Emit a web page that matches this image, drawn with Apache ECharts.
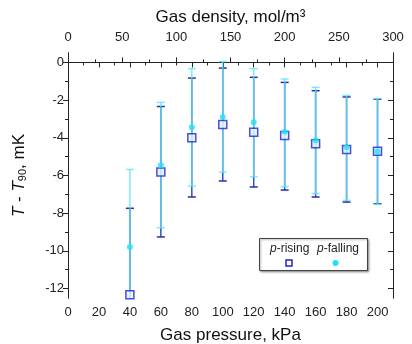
<!DOCTYPE html>
<html>
<head>
<meta charset="utf-8">
<script src="https://cdn.jsdelivr.net/npm/echarts@6/dist/echarts.min.js"></script>
<style>
  html, body { margin: 0; padding: 0; background: #fff; }
  #chart { width: 412px; height: 344px; }
</style>
</head>
<body>
<div id="chart"></div>
<script>
// gas pressure, kPa
var pressure = [40, 60, 80, 100, 120, 140, 160, 180, 200]
// p-rising: T - T90 and error bar ends, mK
var risingT  = [-12.33, -5.82, -4.00, -3.30, -3.70, -3.88, -4.32, -4.62, -4.71]
var risingHi = [-7.74, -2.34, -0.83, -0.30, -0.79, -1.06, -1.50, -1.83, -1.95]
var risingLo = [-16.9, -9.26, -7.14, -6.29, -6.61, -6.77, -7.14, -7.41, -7.50]
// p-falling
var fallingT  = [-9.79, -5.45, -3.44, -2.89, -3.17, -3.68, -4.13, -4.50, -4.72]
var fallingHi = [-5.68, -2.12, -0.33, 0.05, -0.33, -0.88, -1.32, -1.75, -1.92]
var fallingLo = [-13.9, -8.77, -6.56, -5.82, -6.06, -6.59, -6.96, -7.32, -7.53]

var yMajor = [-12, -10, -8, -6, -4, -2, 0]
var yMinor = [-11, -9, -7, -5, -3, -1]

var font = 'Liberation Sans, Arial, sans-serif'
var axisColor = '#222'

function errorBars(color, lineColor, opacity) {
    return function (params, api) {
        var x = api.value(0)
        var hi = api.coord([x, api.value(1)])
        var lo = api.coord([x, api.value(2)])
        var w = 4
        var st = { stroke: color, lineWidth: 1.5, opacity: opacity }
        return {
            type: 'group',
            children: [
                { type: 'line', shape: { x1: hi[0], y1: hi[1], x2: lo[0], y2: lo[1] }, style: { stroke: lineColor, lineWidth: 1.5, opacity: opacity } },
                { type: 'line', shape: { x1: hi[0] - w, y1: hi[1], x2: hi[0] + w, y2: hi[1] }, style: st },
                { type: 'line', shape: { x1: lo[0] - w, y1: lo[1], x2: lo[0] + w, y2: lo[1] }, style: st }
            ]
        }
    }
}

function yAxisDef(pos, values, len, inside, labels) {
    return {
        type: 'value', position: pos, min: -12.5, max: 0.5,
        splitLine: { show: false },
        axisLine: { show: true, lineStyle: { color: axisColor, width: 1 } },
        axisTick: { show: true, inside: inside, length: len, customValues: values, lineStyle: { color: axisColor } },
        axisLabel: labels ? { show: true, customValues: values, color: '#222', fontSize: 13, fontFamily: font, margin: 4 } : { show: false }
    }
}

var option = {
    animation: false,
    backgroundColor: '#fff',
    grid: { left: 68, right: 19, top: 53, bottom: 46, outerBoundsMode: 'none', containLabel: false },
    xAxis: [{
        type: 'value', position: 'bottom', min: 0, max: 210, interval: 20,
        name: 'Gas pressure, kPa', nameLocation: 'middle', nameGap: 29,
        nameTextStyle: { fontSize: 17, color: '#111', fontFamily: font },
        splitLine: { show: false },
        axisLine: { lineStyle: { color: axisColor, width: 1 } },
        axisTick: { length: 5, lineStyle: { color: axisColor } },
        minorTick: { show: true, splitNumber: 2, length: 3, lineStyle: { color: axisColor } },
        axisLabel: { color: '#222', fontSize: 13, fontFamily: font, margin: 8, showMaxLabel: false }
    }, {
        type: 'value', position: 'top', min: 0, max: 300, interval: 50,
        name: 'Gas density, mol/m³', nameLocation: 'middle', nameGap: 26,
        nameTextStyle: { fontSize: 17, color: '#111', fontFamily: font },
        splitLine: { show: false },
        axisLine: { lineStyle: { color: axisColor, width: 1 } },
        axisTick: { length: 5, lineStyle: { color: axisColor } },
        minorTick: { show: true, splitNumber: 2, length: 3, lineStyle: { color: axisColor } },
        axisLabel: { color: '#222', fontSize: 13, fontFamily: font, margin: 9 }
    }],
    yAxis: [
        Object.assign(yAxisDef('left', yMajor, 5, false, true), {
            name: '{i|T}{n| - }{i|T}{s|90}{n|, mK}', nameLocation: 'middle', nameGap: 40, nameRotate: 90,
            nameTextStyle: {
                fontFamily: font,
                rich: {
                    i: { fontStyle: 'italic', fontSize: 17, color: '#111', fontFamily: font },
                    n: { fontSize: 17, color: '#111', fontFamily: font },
                    s: { fontSize: 11, color: '#111', fontFamily: font, verticalAlign: 'bottom', padding: [6, 0, 0, 0] }
                }
            }
        }),
        yAxisDef('left', yMinor, 3, false, false),
        yAxisDef('right', yMajor, 5, true, false),
        yAxisDef('right', yMinor, 3, true, false)
    ],
    series: [{
        name: 'rising bars', type: 'custom', clip: true,
        renderItem: errorBars('#2b2ba6', '#2f4fcf', 1),
        encode: { x: 0, y: [1, 2] },
        data: pressure.map(function (p, i) { return [p, risingHi[i], risingLo[i]] }),
        z: 2
    }, {
        name: 'falling bars', type: 'custom', clip: true,
        renderItem: errorBars('#5fe4f4', '#5fe4f4', 0.8),
        encode: { x: 0, y: [1, 2] },
        data: pressure.map(function (p, i) { return [p, fallingHi[i], fallingLo[i]] }),
        z: 3
    }, {
        name: 'p-rising', type: 'scatter', symbol: 'rect', symbolSize: 8,
        itemStyle: { color: '#dff4ff', borderColor: '#2222cc', borderWidth: 1.5 },
        data: pressure.map(function (p, i) { return [p, risingT[i]] }),
        z: 4
    }, {
        name: 'p-falling', type: 'scatter', symbol: 'circle', symbolSize: 6,
        itemStyle: { color: '#22e2f2' },
        data: pressure.map(function (p, i) { return [p, fallingT[i]] }),
        z: 5
    }],
    graphic: [{
        type: 'rect', left: 259, top: 238, z: 10,
        shape: { width: 108, height: 32 },
        style: { fill: '#fff', stroke: '#444', lineWidth: 1, shadowBlur: 2, shadowOffsetX: 1, shadowOffsetY: 1, shadowColor: 'rgba(0,0,0,0.35)' }
    }, {
        type: 'text', x: 270, y: 243, z: 11,
        style: { text: '{i|p}-rising', font: '12px ' + font, fill: '#222', rich: { i: { fontStyle: 'italic', fontSize: 12, fontFamily: font } } }
    }, {
        type: 'text', x: 317, y: 243, z: 11,
        style: { text: '{i|p}-falling', font: '12px ' + font, fill: '#222', rich: { i: { fontStyle: 'italic', fontSize: 12, fontFamily: font } } }
    }, {
        type: 'rect', x: 286, y: 260, z: 11,
        shape: { width: 6, height: 6 },
        style: { fill: '#fff', stroke: '#2222cc', lineWidth: 1.5 }
    }, {
        type: 'circle', x: 335.5, y: 263, z: 11,
        shape: { r: 3 },
        style: { fill: '#22e2f2' }
    }]
}

var chart = echarts.init(document.getElementById('chart'))
chart.setOption(option)
window.onresize = function () { chart.resize() }
</script>
</body>
</html>
